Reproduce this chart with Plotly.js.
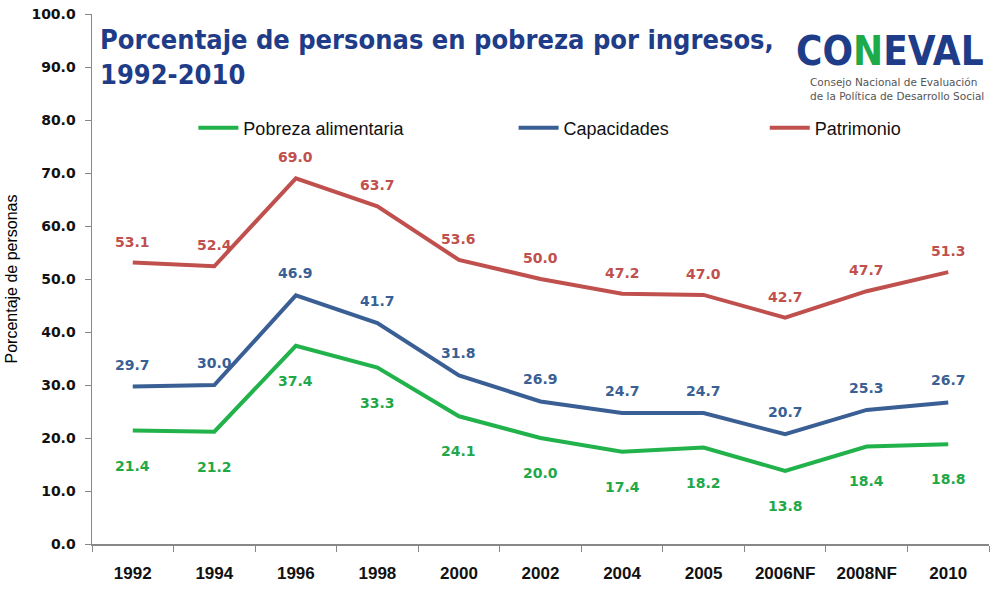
<!DOCTYPE html>
<html><head><meta charset="utf-8">
<script src="https://cdn.plot.ly/plotly-3.0.1.min.js"></script>
<style>html,body{margin:0;padding:0;background:#fff}#chart{width:998px;height:589px}</style>
</head><body><div id="chart"></div>
<script>
const categories = ["1992","1994","1996","1998","2000","2002","2004","2005","2006NF","2008NF","2010"];
const alimentaria = [21.4,21.2,37.4,33.3,24.1,20.0,17.4,18.2,13.8,18.4,18.8];
const capacidades = [29.7,30.0,46.9,41.7,31.8,26.9,24.7,24.7,20.7,25.3,26.7];
const patrimonio = [53.1,52.4,69.0,63.7,53.6,50.0,47.2,47.0,42.7,47.7,51.3];
const yTickVals = [0,10,20,30,40,50,60,70,80,90,100];

const cGreen = "#22B24C", cBlue = "#3A5F94", cRed = "#C0504D";
const series = [
  {name:"Pobreza alimentaria", y:alimentaria, color:cGreen, label:"#1FA848", shift:-35, legend:"legend"},
  {name:"Capacidades", y:capacidades, color:cBlue, label:"#3A5F94", shift:22, legend:"legend2"},
  {name:"Patrimonio", y:patrimonio, color:cRed, label:"#C0504D", shift:21, legend:"legend3"}
];

const traces = series.map(s => ({
  type:"scatter", mode:"lines", x:categories, y:s.y, name:s.name,
  line:{color:s.color, width:4}, legend:s.legend, hoverinfo:"skip"
}));

const annotations = [];
series.forEach(s => {
  s.y.forEach((v,i) => annotations.push({
    x:i, y:v, xref:"x", yref:"y", text:v.toFixed(1), showarrow:false,
    yshift:s.shift, font:{family:"DejaVu Sans, sans-serif", size:14, color:s.label, weight:"bold"}
  }));
});
// Title
annotations.push({xref:"paper", yref:"paper", x:0.007, y:1.0, xanchor:"left", yanchor:"top", align:"left",
  text:"Porcentaje de personas en pobreza por ingresos,<br>1992-2010", showarrow:false,
  yshift:-8,
  font:{family:"DejaVu Sans Condensed, DejaVu Sans, sans-serif", size:27, color:"#1F3C88", weight:"bold"}});
// Logo
annotations.push({xref:"paper", yref:"paper", x:0.997, y:1.0, xanchor:"right", yanchor:"top", showarrow:false,
  yshift:-12,
  text:"<span style='color:#1F3C88'>CO</span><span style='color:#1DAA4A'>N</span><span style='color:#1F3C88'>EVAL</span>",
  font:{family:"DejaVu Sans Condensed, DejaVu Sans, sans-serif", size:40, weight:"bold"}});
annotations.push({xref:"paper", yref:"paper", x:0.997, y:1.0, xanchor:"right", yanchor:"top", showarrow:false,
  yshift:-60, align:"left",
  text:"Consejo Nacional de Evaluación<br>de la Política de Desarrollo Social",
  font:{family:"DejaVu Sans, sans-serif", size:10.5, color:"#555"}});

const legFont = {family:"Liberation Sans, Arial, sans-serif", size:18, color:"#111"};
function leg(x){ return {x:x, y:0.785, xref:"paper", yref:"paper", xanchor:"left", yanchor:"middle",
  orientation:"h", font:legFont, bgcolor:"rgba(0,0,0,0)", itemwidth:40}; }

const layout = {
  width:998, height:589,
  margin:{l:92, r:9, t:14, b:45},
  paper_bgcolor:"#fff", plot_bgcolor:"#fff",
  showlegend:true,
  legend:leg(0.113), legend2:leg(0.470), legend3:leg(0.750),
  xaxis:{type:"category", range:[-0.5,10.5], tickson:"boundaries", ticks:"outside", ticklen:6,
    tickcolor:"#888", showline:true, linecolor:"#888", linewidth:1.5, showgrid:false, zeroline:false,
    tickfont:{family:"Liberation Sans, Arial, sans-serif", size:17, color:"#111", weight:"bold"}, ticklabelstandoff:13},
  yaxis:{range:[0,100], tickvals:yTickVals, ticktext:yTickVals.map(v=>v.toFixed(1)), ticks:"outside", ticklen:6,
    tickcolor:"#888", showline:true, linecolor:"#888", linewidth:1.5, showgrid:false, zeroline:false,
    ticklabelstandoff:6,
    tickfont:{family:"DejaVu Sans, sans-serif", size:14, color:"#111", weight:"bold"},
    title:{text:"Porcentaje de personas", standoff:10, font:{family:"Liberation Sans, Arial, sans-serif", size:16, color:"#000"}}},
  annotations:annotations
};
Plotly.newPlot("chart", traces, layout, {displayModeBar:false, staticPlot:true});
</script></body></html>
